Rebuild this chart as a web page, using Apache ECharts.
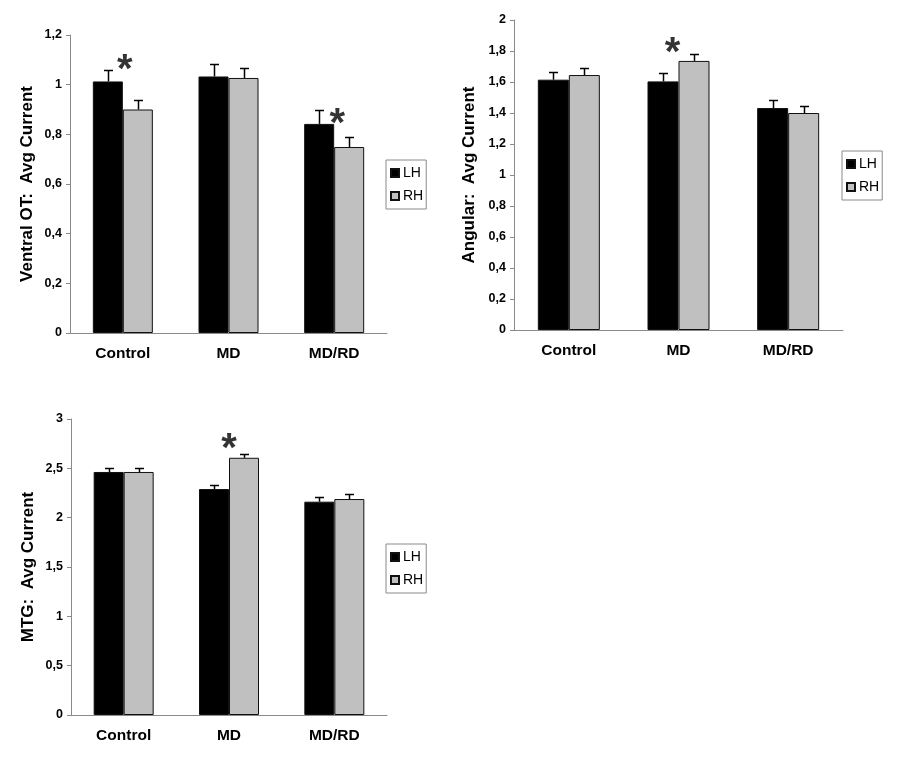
<!DOCTYPE html>
<html>
<head>
<meta charset="utf-8">
<script src="https://cdn.jsdelivr.net/npm/echarts@6/dist/echarts.min.js"></script>
<style>
html,body{margin:0;padding:0;background:#fff;}
#chart{width:897px;height:764px;}
</style>
</head>
<body>
<div id="chart"></div>
<script>
const categories = ['Control', 'MD', 'MD/RD'];
const seriesNames = ['LH', 'RH'];

// Ventral OT
const otLH = [1.013, 1.033, 0.842];
const otRH = [0.900, 1.027, 0.749];
const otLHErr = [0.047, 0.050, 0.055];
const otRHErr = [0.039, 0.040, 0.041];
const otStars = [[0, 1.094], [2, 0.878]];

// Angular
const angLH = [1.615, 1.604, 1.432];
const angRH = [1.645, 1.736, 1.400];
const angLHErr = [0.047, 0.054, 0.049];
const angRHErr = [0.043, 0.043, 0.043];
const angStars = [[1, 1.848]];

// MTG
const mtgLH = [2.463, 2.290, 2.162];
const mtgRH = [2.463, 2.607, 2.189];
const mtgLHErr = [0.043, 0.044, 0.051];
const mtgRHErr = [0.043, 0.038, 0.051];
const mtgStars = [[1, 2.786]];

const yTitles = ['Ventral OT:  Avg Current', 'Angular:  Avg Current', 'MTG:  Avg Current'];
const yMax = [1.2, 2, 3];
const yInterval = [0.2, 0.2, 0.5];

const FONT = '"Liberation Sans", Arial, Helvetica, sans-serif';
const AXIS_GRAY = '#8a8a8a';

const panels = [
  { LH: otLH, RH: otRH, LHErr: otLHErr, RHErr: otRHErr, stars: otStars, starDx: [2, 3],
    grid: { left: 70, top: 35, width: 317, height: 298 }, bw: 30,
    legend: { left: 386, top: 160 } },
  { LH: angLH, RH: angRH, LHErr: angLHErr, RHErr: angRHErr, stars: angStars, starDx: [-6],
    grid: { left: 514, top: 20, width: 329, height: 310 }, bw: 31,
    legend: { left: 842, top: 151 } },
  { LH: mtgLH, RH: mtgRH, LHErr: mtgLHErr, RHErr: mtgRHErr, stars: mtgStars, starDx: [0],
    grid: { left: 71, top: 419, width: 316, height: 296 }, bw: 30,
    legend: { left: 386, top: 544 } }
];

function fmt(v) {
  return (Math.round(v * 10) / 10).toString().replace('.', ',');
}

const grids = [], xAxes = [], yAxes = [], series = [], legends = [];

panels.forEach((p, i) => {
  grids.push(Object.assign({ containLabel: false }, p.grid));
  xAxes.push({
    type: 'category', gridIndex: i, data: categories,
    axisLine: { lineStyle: { color: AXIS_GRAY, width: 1 } },
    axisTick: { show: false },
    axisLabel: { fontFamily: FONT, fontWeight: 'bold', fontSize: 15.5, color: '#000', margin: 13 }
  });
  yAxes.push({
    type: 'value', gridIndex: i, min: 0, max: yMax[i], interval: yInterval[i],
    name: yTitles[i], nameLocation: 'middle', nameRotate: 90, nameGap: i === 1 ? 36 : 34,
    nameTextStyle: { fontFamily: FONT, fontWeight: 'bold', fontSize: 17, color: '#000' },
    splitLine: { show: false },
    axisLine: { show: true, lineStyle: { color: AXIS_GRAY, width: 1 } },
    axisTick: { show: true, length: 4, lineStyle: { color: AXIS_GRAY } },
    axisLabel: { fontFamily: FONT, fontWeight: 'bold', fontSize: 12.5, color: '#000', margin: 8, formatter: fmt }
  });
  legends.push({
    data: seriesNames, orient: 'vertical', left: p.legend.left, top: p.legend.top,
    padding: [6, 3, 6, 4], itemGap: 9, itemWidth: 8, itemHeight: 8, icon: 'rect',
    borderColor: AXIS_GRAY, borderWidth: 1, selectedMode: false,
    textStyle: { fontFamily: FONT, fontSize: 14, color: '#000', padding: [0, 0, 0, -1] }
  });
  const colors = { LH: '#000000', RH: '#c0c0c0' };
  seriesNames.forEach(name => {
    series.push({
      type: 'bar', name: name, xAxisIndex: i, yAxisIndex: i, data: p[name],
      barWidth: p.bw, barGap: '0%',
      itemStyle: { color: colors[name], borderColor: '#111', borderWidth: 1 },
      z: 2
    });
  });
  seriesNames.forEach((name, k) => {
    const side = k === 0 ? -1 : 1;
    const bw = p.bw;
    series.push({
      type: 'custom', name: name + ' error', xAxisIndex: i, yAxisIndex: i,
      data: p[name].map((v, j) => [j, v, p[name + 'Err'][j]]),
      encode: { x: 0, y: 1 },
      z: 3,
      renderItem: function (params, api) {
        const c = api.value(0), v = api.value(1), e = api.value(2);
        const base = api.coord([c, v]);
        const top = api.coord([c, v + e]);
        const x = Math.round(base[0] + side * bw / 2) + 0.5;
        const yt = Math.round(top[1]) + 0.5;
        return {
          type: 'group',
          children: [
            { type: 'line', shape: { x1: x, y1: base[1], x2: x, y2: yt }, style: { stroke: '#000', lineWidth: 1.5 } },
            { type: 'line', shape: { x1: x - 4.5, y1: yt, x2: x + 4.5, y2: yt }, style: { stroke: '#000', lineWidth: 1.5 } }
          ]
        };
      }
    });
  });
  series.push({
    type: 'scatter', name: 'significance', xAxisIndex: i, yAxisIndex: i,
    data: p.stars.map((s, j) => ({ value: s, label: { offset: [p.starDx[j], 10] } })),
    symbolSize: 0, silent: true, z: 4,
    label: {
      show: true, position: 'inside', formatter: '*',
      fontFamily: FONT, fontWeight: 'bold', fontSize: 40, color: '#000'
    }
  });
});

const chart = echarts.init(document.getElementById('chart'), null, { renderer: 'canvas' });
chart.setOption({
  animation: false,
  backgroundColor: '#ffffff',
  grid: grids, xAxis: xAxes, yAxis: yAxes, legend: legends, series: series
});
</script>
</body>
</html>
